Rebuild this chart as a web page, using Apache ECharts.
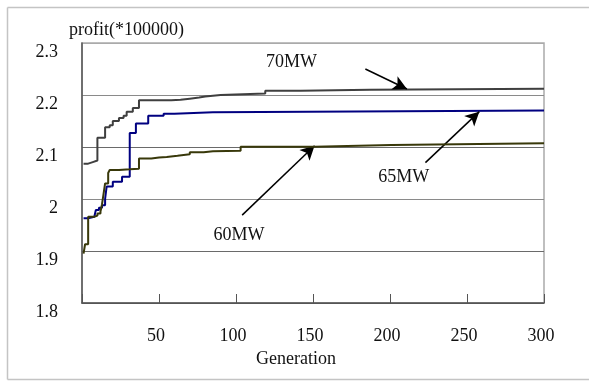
<!DOCTYPE html>
<html>
<head>
<meta charset="utf-8">
<script src="https://cdn.jsdelivr.net/npm/echarts@6/dist/echarts.min.js"></script>
<style>html,body{margin:0;padding:0;background:#fff}#c{width:589px;height:381px}</style>
</head>
<body>
<div id="c"></div>
<script>
// Generation (x) at which each step starts, and profit (*100000) from there on
var gen70 = [1, 4, 7, 10, 15, 18, 20, 24, 27, 29, 33, 37, 58, 64, 70, 76, 80, 90, 119, 142, 187, 300];
var val70 = [2.068, 2.071, 2.074, 2.118, 2.138, 2.142, 2.150, 2.156, 2.160, 2.168, 2.175, 2.190, 2.191, 2.193, 2.195, 2.197, 2.200, 2.203, 2.208, 2.210, 2.212, 2.212];

var gen65 = [1, 4, 5, 8, 9, 11, 13, 15, 16, 20, 26, 31, 35, 43, 53, 60, 85, 300];
var val65 = [1.963, 1.963, 1.966, 1.968, 1.979, 1.983, 1.988, 2.000, 2.024, 2.033, 2.043, 2.127, 2.145, 2.160, 2.164, 2.167, 2.170, 2.170];

var gen60 = [1, 2, 4, 8, 10, 12, 13, 14, 15, 17, 18, 24, 31, 37, 45, 50, 55, 62, 70, 79, 85, 103, 151, 201, 300];
var val60 = [1.895, 1.913, 1.966, 1.968, 1.972, 1.976, 1.990, 2.010, 2.030, 2.050, 2.056, 2.057, 2.058, 2.078, 2.080, 2.081, 2.083, 2.086, 2.090, 2.092, 2.093, 2.1006, 2.104, 2.107, 2.107];

var seriesNames = ['70MW', '65MW', '60MW'];
// annotation label centres (data coords)
var labelGen = [136, 209, 102];
var labelVal = [2.262, 2.042, 1.930];
// arrows: tail -> head (data coords)
var arrowFromGen = [184, 223, 104];
var arrowFromVal = [2.250, 2.070, 1.969];
var arrowToGen = [211, 258, 151];
var arrowToVal = [2.2115, 2.168, 2.1025];

var yTicks = [1.8, 1.9, 2.0, 2.1, 2.2, 2.3];
var xTicks = [0, 50, 100, 150, 200, 250, 300];

function zip(a, b) { return a.map(function (v, i) { return [v, b[i]]; }); }

var colors = ['#3f3f3f', '#000080', '#38380a'];
var gens = [gen70, gen65, gen60];
var vals = [val70, val65, val60];
var font = 'Liberation Serif, Times New Roman, serif';

var series = seriesNames.map(function (name, i) {
  return {
    name: name,
    type: 'line',
    step: 'end',
    showSymbol: false,
    data: zip(gens[i], vals[i]),
    lineStyle: { color: colors[i], width: 2 },
    itemStyle: { color: colors[i] },
    z: 3 + i,
    markPoint: {
      symbol: 'circle', symbolSize: 0, silent: true,
      data: [{ coord: [labelGen[i], labelVal[i]] }],
      label: { show: true, position: 'inside', formatter: name, color: '#111', fontSize: 18, fontFamily: font }
    },
    markLine: {
      silent: true,
      symbol: ['none', 'arrow'],
      symbolSize: [11, 14],
      label: { show: false },
      lineStyle: { color: '#000', width: 1.5, type: 'solid' },
      data: [[{ coord: [arrowFromGen[i], arrowFromVal[i]] }, { coord: [arrowToGen[i], arrowToVal[i]] }]]
    }
  };
});

var chart = echarts.init(document.getElementById('c'), null, { renderer: 'canvas' });
chart.setOption({
  animation: false,
  backgroundColor: '#fff',
  title: {
    text: 'profit(*100000)', left: 69, top: 21, padding: 0,
    textStyle: { fontSize: 18, fontWeight: 'normal', color: '#111', fontFamily: font }
  },
  graphic: [
    { type: 'line', silent: true, shape: { x1: 7.5, y1: 7.5, x2: 589, y2: 7.5 }, style: { stroke: '#c4c4c4', lineWidth: 1.5 } },
    { type: 'line', silent: true, shape: { x1: 7.5, y1: 7.5, x2: 7.5, y2: 379.5 }, style: { stroke: '#c4c4c4', lineWidth: 1.5 } },
    { type: 'line', silent: true, shape: { x1: 7.5, y1: 379.5, x2: 589, y2: 379.5 }, style: { stroke: '#c4c4c4', lineWidth: 1.5 } }
  ],
  grid: { left: 82, right: 45, top: 43, bottom: 78, show: true, borderColor: '#aaa', borderWidth: 1.5, backgroundColor: 'transparent' },
  xAxis: {
    type: 'value', min: xTicks[0], max: xTicks[xTicks.length - 1], interval: 50,
    name: 'Generation', nameLocation: 'middle', nameGap: 45,
    nameTextStyle: { fontSize: 18, color: '#111', fontFamily: font, padding: [0, 34, 0, 0] },
    axisLine: { show: true, lineStyle: { color: '#555', width: 1.5 } },
    axisTick: { show: true, inside: true, length: 9, lineStyle: { color: '#555', width: 1 } },
    axisLabel: {
      margin: 24, fontSize: 18, color: '#111', fontFamily: font, padding: [0, 6, 0, 0],
      formatter: function (v) { return v === 0 ? '' : String(v); }
    },
    splitLine: { show: false }
  },
  yAxis: {
    type: 'value', min: yTicks[0], max: yTicks[yTicks.length - 1], interval: 0.1,
    axisLine: { show: true, lineStyle: { color: '#555', width: 1.5 } },
    axisTick: { show: false },
    axisLabel: {
      margin: 24, fontSize: 18, color: '#111', fontFamily: font, verticalAlign: 'top', lineHeight: 19,
      formatter: function (v) { return String(Math.round(v * 10) / 10); }
    },
    splitLine: { show: true, lineStyle: { color: ['#555', '#6a6a6a', '#8a8a8a', '#6a6a6a', '#8a8a8a', '#aaa'], width: 1 } }
  },
  series: series
});
</script>
</body>
</html>
